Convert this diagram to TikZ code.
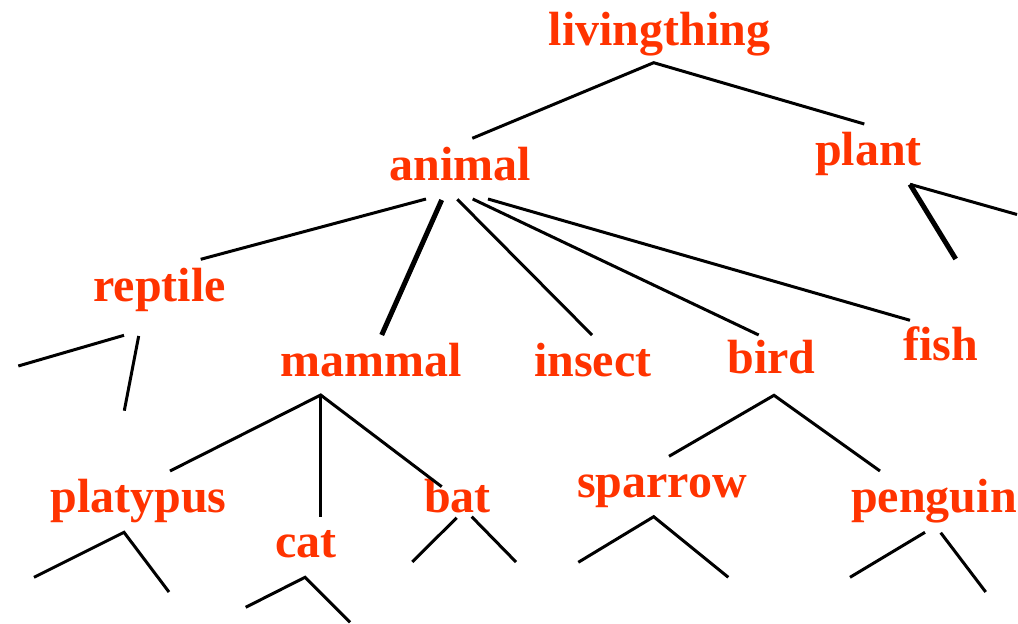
\documentclass[tikz,border=0pt]{standalone}
\usepackage{fontspec}
\setmainfont{Liberation Serif}
\definecolor{lbl}{RGB}{255,51,0}
\begin{document}
\begin{tikzpicture}[x=1pt,y=-1pt,
  lab/.style={anchor=base,inner sep=0pt,text=lbl,font=\bfseries\fontsize{48}{48}\selectfont},
  edge/.style={draw=black,line width=3pt},
  thickedge/.style={draw=black,line width=5pt}]
\useasboundingbox (0,0) rectangle (1018,624);
% labels
\node[lab] (livingthing) at (659.5,45) {livingthing};
\node[lab] (plant) at (868.5,165) {plant};
\node[lab] (animal) at (460.5,180) {animal};
\node[lab] (reptile) at (159.5,301) {reptile};
\node[lab] (mammal) at (371.5,376) {mammal};
\node[lab] (insect) at (592.7,376) {insect};
\node[lab] (bird) at (771.5,373) {bird};
\node[lab] (fish) at (940.8,360) {fish};
\node[lab] (platypus) at (138.5,512) {platypus};
\node[lab] (cat) at (305.7,557) {cat};
\node[lab] (bat) at (457.5,512) {bat};
\node[lab] (sparrow) at (662,497.5) {sparrow};
\node[lab] (penguin) at (934,512.3) {penguin};
% connector end points
\coordinate (lt-apex) at (653.7,62.7);
\coordinate (animal-in) at (472.3,138.3);
\coordinate (plant-in) at (864.3,124);
\coordinate (plant-apex) at (910,184.3);
\coordinate (plant-r) at (1017,214.5);
\coordinate (plant-d) at (955.7,259);
\coordinate (an-1) at (426,199);
\coordinate (an-2) at (441.7,200);
\coordinate (an-3) at (457.3,199.3);
\coordinate (an-4) at (472.7,199);
\coordinate (an-5) at (488,199);
\coordinate (reptile-in) at (200.7,259.3);
\coordinate (mammal-in) at (381.7,335);
\coordinate (insect-in) at (592,335);
\coordinate (bird-in) at (758.7,335);
\coordinate (fish-in) at (910,320.3);
\coordinate (rep-a) at (124,335.3);
\coordinate (rep-l) at (18.3,366);
\coordinate (rep-b) at (138.7,336);
\coordinate (rep-d) at (124.3,410.7);
\coordinate (mam-apex) at (320.7,395);
\coordinate (platypus-in) at (170,471);
\coordinate (cat-in) at (320.7,516.7);
\coordinate (bat-in) at (441.7,486.7);
\coordinate (pla-apex) at (124,532.3);
\coordinate (pla-l) at (34,577.3);
\coordinate (pla-r) at (169,592);
\coordinate (cat-apex) at (305,577.3);
\coordinate (cat-l) at (245.7,607.3);
\coordinate (cat-r) at (350,622.3);
\coordinate (bat-a) at (456.7,517.7);
\coordinate (bat-l) at (412.3,562);
\coordinate (bat-b) at (471.7,516.7);
\coordinate (bat-r) at (516,562);
\coordinate (bird-apex) at (774,395.3);
\coordinate (sparrow-in) at (669,456.3);
\coordinate (penguin-in) at (880,471);
\coordinate (spa-apex) at (653.7,516.7);
\coordinate (spa-l) at (578.3,562.3);
\coordinate (spa-r) at (728.3,577.3);
\coordinate (pen-a) at (925,532.3);
\coordinate (pen-l) at (850,577.3);
\coordinate (pen-b) at (940.7,532.7);
\coordinate (pen-r) at (985.7,592);
% connectors
\draw[edge] (animal-in) -- (lt-apex) -- (plant-in);
\draw[edge] (plant-apex) -- (plant-r);
\draw[thickedge] (plant-apex) -- (plant-d);
\draw[edge] (an-1) -- (reptile-in);
\draw[thickedge] (an-2) -- (mammal-in);
\draw[edge] (an-3) -- (insect-in);
\draw[edge] (an-4) -- (bird-in);
\draw[edge] (an-5) -- (fish-in);
\draw[edge] (rep-a) -- (rep-l);
\draw[edge] (rep-b) -- (rep-d);
\draw[edge] (platypus-in) -- (mam-apex) -- (bat-in);
\draw[edge] (mam-apex) -- (cat-in);
\draw[edge] (pla-l) -- (pla-apex) -- (pla-r);
\draw[edge] (cat-l) -- (cat-apex) -- (cat-r);
\draw[edge] (bat-a) -- (bat-l);
\draw[edge] (bat-b) -- (bat-r);
\draw[edge] (sparrow-in) -- (bird-apex) -- (penguin-in);
\draw[edge] (spa-l) -- (spa-apex) -- (spa-r);
\draw[edge] (pen-a) -- (pen-l);
\draw[edge] (pen-b) -- (pen-r);
\end{tikzpicture}
\end{document}
